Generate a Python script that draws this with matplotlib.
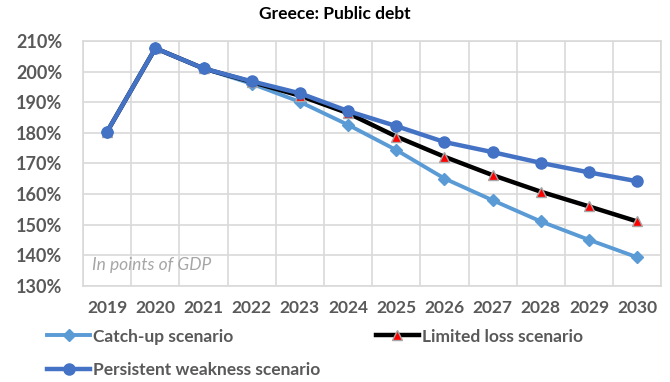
import matplotlib.pyplot as plt
from matplotlib.ticker import FuncFormatter, MultipleLocator

years = ['2019', '2020', '2021', '2022', '2023', '2024',
         '2025', '2026', '2027', '2028', '2029', '2030']
catch_up = [180.4, 207.6, 201.0, 196.0, 190.1, 182.6, 174.4, 165.1, 158.0, 151.1, 145.1, 139.4]
limited = [180.4, 207.6, 201.0, 196.6, 192.1, 186.4, 178.8, 172.2, 166.2, 160.8, 156.0, 151.1]
persistent = [180.4, 207.6, 201.0, 196.8, 192.9, 187.1, 182.2, 177.0, 173.7, 170.2, 167.1, 164.2]

plt.rcParams['font.family'] = ['Lato', 'DejaVu Sans']
grey = '#595959'

fig = plt.figure(figsize=(6.7, 3.82), dpi=100)
ax = fig.add_axes([0.124, 0.251, 0.863, 0.642])

x = list(range(len(years)))
l1, = ax.plot(x, catch_up, color='#5B9BD5', lw=2.8, marker='D', ms=6,
              label='Catch-up scenario', zorder=3)
l2, = ax.plot(x, limited, color='black', lw=3.2, marker='^', ms=7,
              markerfacecolor='red', markeredgecolor='#A6A6A6', markeredgewidth=1,
              label='Limited loss scenario', zorder=4)
l3, = ax.plot(x, persistent, color='#4472C4', lw=3.2, marker='o', ms=8,
              label='Persistent weakness scenario', zorder=5)

ax.set_xlim(-0.5, len(years) - 0.5)
ax.set_ylim(130, 210)
ax.set_xticks(x)
ax.set_xticklabels(years)
ax.xaxis.set_minor_locator(MultipleLocator(1, offset=0.5))
ax.yaxis.set_major_locator(MultipleLocator(10))
ax.yaxis.set_major_formatter(FuncFormatter(lambda v, p: f'{v:.0f}%'))
ax.grid(True, which='major', axis='y', color='#D9D9D9', lw=1.2)
ax.grid(True, which='minor', axis='x', color='#D9D9D9', lw=1.2)
ax.tick_params(which='both', length=0)
ax.tick_params(axis='x', pad=10)
ax.tick_params(axis='y', pad=15)
for lbl in ax.get_xticklabels():
    lbl.set_fontsize(12.5)
    lbl.set_fontweight('bold')
    lbl.set_color(grey)
for lbl in ax.get_yticklabels():
    lbl.set_fontsize(13)
    lbl.set_fontweight('bold')
    lbl.set_color(grey)
for s in ax.spines.values():
    s.set_color('#D9D9D9')
    s.set_linewidth(1.2)
ax.set_axisbelow(True)

ax.text(0.016, 0.065, 'In points of GDP', transform=ax.transAxes,
        fontsize=12.5, style='italic', color='#A6A6A6')

fig.suptitle('Greece: Public debt', x=0.5, y=0.985, fontsize=12.5, fontweight='bold')

leg = fig.legend(handles=[l1, l3, l2], loc='upper left', bbox_to_anchor=(0.07, 0.14),
                 ncol=2, frameon=False, fontsize=12.5, handlelength=2.5,
                 handletextpad=0.15, columnspacing=3.2, labelspacing=1.0,
                 borderaxespad=0, borderpad=0)
for t in leg.get_texts():
    t.set_color(grey)
    t.set_fontweight('bold')

fig.savefig('out.png', dpi=100)
